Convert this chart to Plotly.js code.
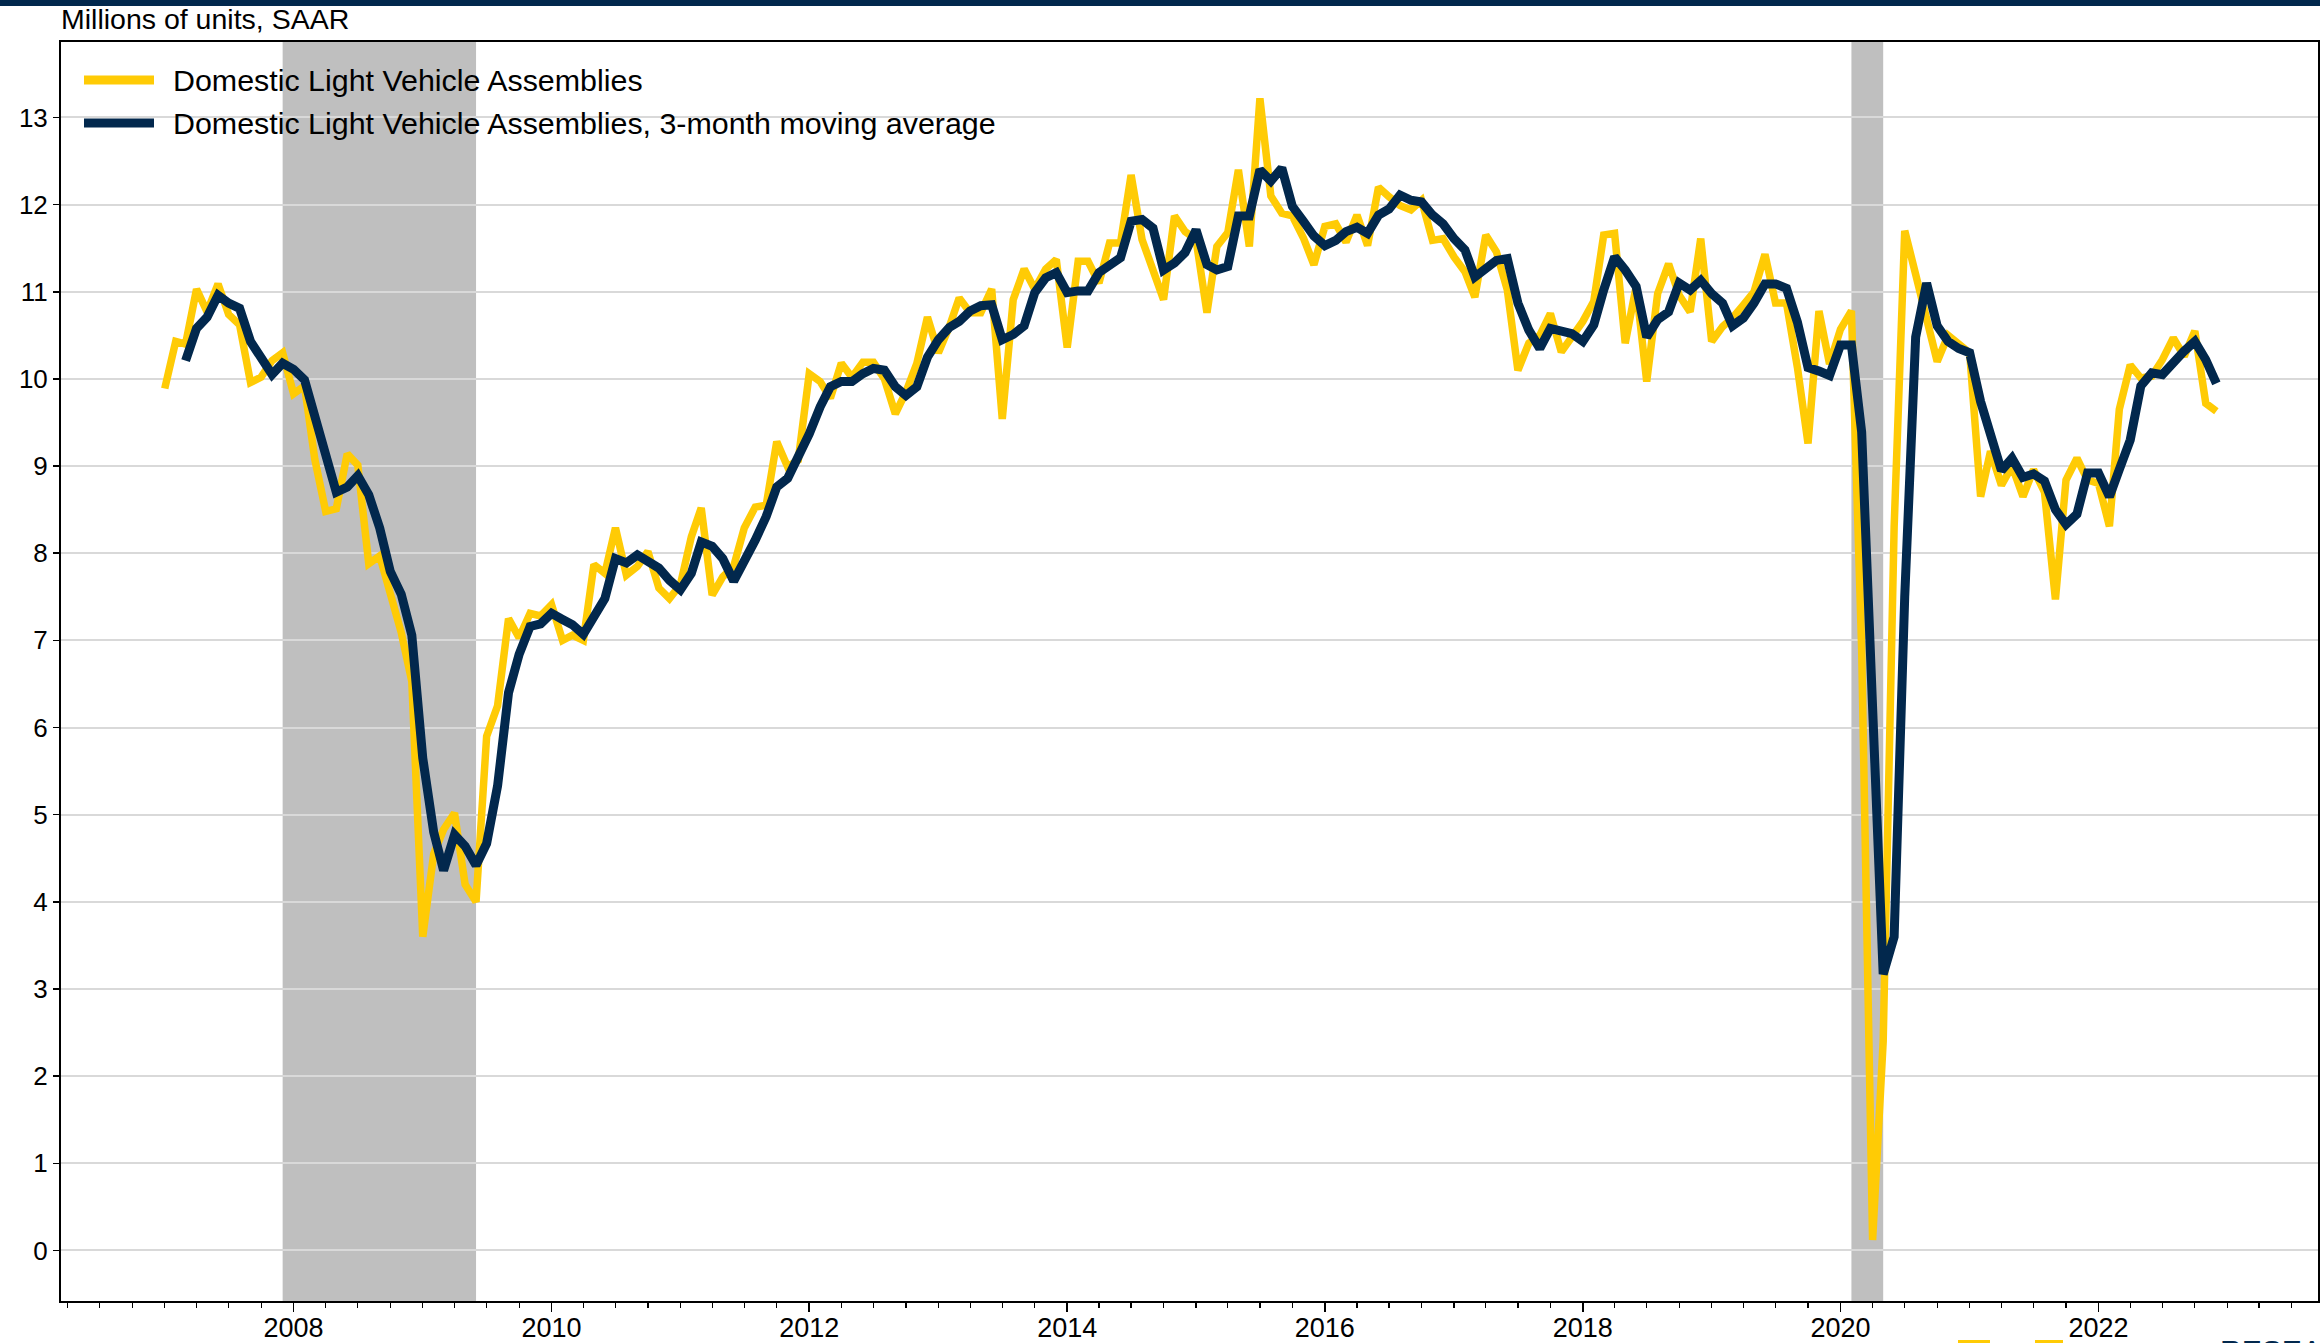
<!DOCTYPE html>
<html>
<head>
<meta charset="utf-8">
<script src="https://cdn.plot.ly/plotly-3.0.1.min.js"></script>
<style>
  html, body { margin: 0; padding: 0; background: #ffffff; }
  #chart { width: 2320px; height: 1343px; }
</style>
</head>
<body>
<div id="chart"></div>
<script>
// ---------------- DATA ----------------
const seriesStartYear = 2007;   // first month: January 2007
const seriesName = 'Domestic Light Vehicle Assemblies';
const maName = 'Domestic Light Vehicle Assemblies, 3-month moving average';
const axisNote = 'Millions of units, SAAR';

// Monthly values, Jan 2007 - Dec 2022 (millions of units, SAAR)
const assemblies = [
  9.89, 10.43, 10.40, 11.03, 10.77, 11.09, 10.74, 10.62, 9.96, 10.02, 10.21, 10.30,   // 2007
  9.83, 9.92, 9.08, 8.48, 8.51, 9.14, 9.01, 7.88, 7.97, 7.53, 7.09, 6.53,             // 2008
  3.60, 4.55, 4.83, 5.02, 4.20, 4.00, 5.90, 6.25, 7.25, 7.03, 7.31, 7.28,             // 2009
  7.41, 7.00, 7.06, 7.00, 7.87, 7.77, 8.29, 7.75, 7.85, 8.02, 7.60, 7.48,             // 2010
  7.64, 8.19, 8.52, 7.52, 7.73, 7.85, 8.29, 8.53, 8.55, 9.28, 8.99, 9.07,             // 2011
  10.06, 9.97, 9.78, 10.18, 10.02, 10.19, 10.19, 10.00, 9.60, 9.85, 10.18, 10.71,     // 2012
  10.30, 10.60, 10.93, 10.76, 10.76, 11.03, 9.54, 10.91, 11.26, 11.03, 11.26, 11.37,  // 2013
  10.36, 11.35, 11.35, 11.10, 11.56, 11.56, 12.34, 11.60, 11.24, 10.91, 11.87, 11.69, // 2014
  11.60, 10.76, 11.52, 11.68, 12.40, 11.52, 13.22, 12.10, 11.90, 11.87, 11.62, 11.31, // 2015
  11.75, 11.78, 11.57, 11.88, 11.53, 12.20, 12.09, 11.99, 11.94, 12.05, 11.59, 11.61, // 2016
  11.40, 11.23, 10.94, 11.65, 11.46, 11.02, 10.10, 10.41, 10.50, 10.75, 10.31, 10.47, // 2017
  10.66, 10.89, 11.65, 11.67, 10.41, 11.06, 9.97, 10.98, 11.32, 10.96, 10.77, 11.61,  // 2018
  10.43, 10.60, 10.70, 10.85, 11.00, 11.43, 10.87, 10.87, 10.13, 9.26, 10.78, 10.17,  // 2019
  10.57, 10.78, 6.90, 0.12, 2.40, 8.30, 11.70, 11.20, 10.65, 10.20, 10.50, 10.40,     // 2020
  10.30, 8.65, 9.17, 8.78, 9.00, 8.65, 8.96, 8.70, 7.47, 8.84, 9.09, 8.84,            // 2021
  8.80, 8.31, 9.65, 10.16, 10.01, 10.03, 10.22, 10.47, 10.26, 10.55, 9.72, 9.63       // 2022
];

// 3-month moving average, Mar 2007 - Dec 2022
const movingAverage = [
  10.21, 10.58, 10.71, 10.96, 10.87, 10.81, 10.43, 10.24, 10.05, 10.18,               // 2007 (Mar-Dec)
  10.11, 9.99, 9.55, 9.11, 8.70, 8.76, 8.89, 8.67, 8.29, 7.79, 7.53, 7.06,            // 2008
  5.65, 4.80, 4.36, 4.77, 4.64, 4.42, 4.67, 5.33, 6.40, 6.84, 7.16, 7.19,             // 2009
  7.31, 7.24, 7.18, 7.07, 7.29, 7.48, 7.94, 7.89, 7.98, 7.90, 7.83, 7.69,             // 2010
  7.58, 7.77, 8.13, 8.08, 7.94, 7.68, 7.90, 8.15, 8.42, 8.76, 8.86, 9.09,             // 2011
  9.37, 9.68, 9.91, 9.97, 9.97, 10.06, 10.12, 10.10, 9.91, 9.81, 9.91, 10.25,         // 2012
  10.45, 10.59, 10.66, 10.78, 10.84, 10.85, 10.45, 10.51, 10.61, 10.99, 11.16, 11.22, // 2013
  10.99, 11.01, 11.01, 11.22, 11.31, 11.39, 11.81, 11.83, 11.73, 11.25, 11.33, 11.45, // 2014
  11.71, 11.31, 11.25, 11.29, 11.87, 11.87, 12.40, 12.27, 12.42, 11.98, 11.81, 11.64, // 2015
  11.53, 11.59, 11.69, 11.74, 11.67, 11.88, 11.95, 12.11, 12.05, 12.03, 11.88, 11.78, // 2016
  11.61, 11.48, 11.17, 11.27, 11.36, 11.38, 10.87, 10.56, 10.35, 10.58, 10.54, 10.52, // 2017
  10.43, 10.62, 11.02, 11.40, 11.25, 11.06, 10.48, 10.68, 10.77, 11.10, 11.02, 11.13, // 2018
  10.98, 10.87, 10.61, 10.70, 10.87, 11.09, 11.09, 11.04, 10.65, 10.13, 10.09, 10.04, // 2019
  10.39, 10.39, 9.39, 5.95, 3.17, 3.60, 7.50, 10.48, 11.10, 10.61, 10.43, 10.35,      // 2020
  10.30, 9.74, 9.35, 8.95, 9.09, 8.87, 8.91, 8.83, 8.50, 8.33, 8.45, 8.92,            // 2021
  8.92, 8.65, 8.96, 9.30, 9.92, 10.07, 10.05, 10.20, 10.32, 10.43, 10.22, 9.95        // 2022
];

// NBER recessions (shaded)
const recessionStart = ['2007-12-01', '2020-02-01'];
const recessionEnd   = ['2009-06-01', '2020-05-01'];

// y-axis tick values
const yTicks = [0, 1, 2, 3, 4, 5, 6, 7, 8, 9, 10, 11, 12, 13];

// ---------------- BUILD ----------------
const months = assemblies.map((_, i) => {
  const y = seriesStartYear + Math.floor(i / 12);
  const m = (i % 12) + 1;
  return y + '-' + (m < 10 ? '0' + m : m) + '-01';
});
const maMonths = months.slice(months.length - movingAverage.length);

const YELLOW = '#ffcb05';
const NAVY = '#02284d';
const FONT = 'Liberation Sans, Arial, Helvetica, sans-serif';

// geometry helpers for paper-referenced decorations (pixels -> paper)
const W = 2320, H = 1343, ML = 61, MR = 2, MT = 42, MB = 42;
const PW = W - ML - MR, PH = H - MT - MB;
const px = x => (x - ML) / PW;
const py = y => (H - MB - y) / PH;

const traces = [
  {
    x: months, y: assemblies, type: 'scatter', mode: 'lines', name: seriesName,
    line: { color: YELLOW, width: 7.5, shape: 'linear' }, showlegend: false,
    hoverinfo: 'x+y'
  },
  {
    x: maMonths, y: movingAverage, type: 'scatter', mode: 'lines', name: maName,
    line: { color: NAVY, width: 9, shape: 'linear' }, showlegend: false,
    hoverinfo: 'x+y'
  }
];

const shapes = [];
recessionStart.forEach((s, i) => {
  shapes.push({
    type: 'rect', xref: 'x', yref: 'paper', x0: s, x1: recessionEnd[i], y0: 0, y1: 1,
    fillcolor: '#bfbfbf', line: { width: 0 }, layer: 'below'
  });
});
// top navy banner
shapes.push({
  type: 'rect', xref: 'paper', yref: 'paper', x0: px(0), x1: px(W), y0: py(6), y1: py(0),
  fillcolor: NAVY, line: { width: 0 }, layer: 'above'
});
// legend swatches
shapes.push({
  type: 'line', xref: 'paper', yref: 'paper', x0: px(84), x1: px(154), y0: py(80), y1: py(80),
  line: { color: YELLOW, width: 9 }, layer: 'above'
});
shapes.push({
  type: 'line', xref: 'paper', yref: 'paper', x0: px(84), x1: px(154), y0: py(123), y1: py(123),
  line: { color: NAVY, width: 9 }, layer: 'above'
});
// clipped logo fragments at bottom edge
shapes.push({
  type: 'rect', xref: 'paper', yref: 'paper', x0: px(1958), x1: px(1990), y0: py(1346), y1: py(1340),
  fillcolor: YELLOW, line: { width: 0 }, layer: 'above'
});
shapes.push({
  type: 'rect', xref: 'paper', yref: 'paper', x0: px(2035), x1: px(2063), y0: py(1346), y1: py(1340),
  fillcolor: YELLOW, line: { width: 0 }, layer: 'above'
});

const annotations = [
  {
    text: axisNote, xref: 'paper', yref: 'paper', x: px(59), y: py(19),
    xanchor: 'left', yanchor: 'middle', showarrow: false,
    font: { family: FONT, size: 28.5, color: '#000000' }
  },
  {
    text: seriesName, xref: 'paper', yref: 'paper', x: px(171), y: py(80),
    xanchor: 'left', yanchor: 'middle', showarrow: false,
    font: { family: FONT, size: 30.4, color: '#000000' }
  },
  {
    text: maName, xref: 'paper', yref: 'paper', x: px(171), y: py(123),
    xanchor: 'left', yanchor: 'middle', showarrow: false,
    font: { family: FONT, size: 30.4, color: '#000000' }
  },
  {
    text: 'RESEARCH', xref: 'paper', yref: 'paper', x: px(2218), y: py(1332),
    xanchor: 'left', yanchor: 'top', showarrow: false,
    font: { family: FONT, size: 30, color: NAVY }
  }
];

const layout = {
  width: W, height: H,
  margin: { l: ML, r: MR, t: MT, b: MB, pad: 0 },
  paper_bgcolor: '#ffffff', plot_bgcolor: '#ffffff',
  showlegend: false,
  font: { family: FONT, color: '#000000' },
  xaxis: {
    type: 'date',
    range: ['2006-03-13', '2023-09-15'],
    tick0: '2008-01-01', dtick: 'M24', tickformat: '%Y',
    ticks: 'outside', ticklen: 9, tickwidth: 1.5, tickcolor: '#000000',
    ticklabelstandoff: -7,
    tickfont: { family: FONT, size: 27, color: '#000000' },
    showline: true, linecolor: '#000000', linewidth: 2, mirror: true,
    showgrid: false, zeroline: false,
    minor: { tick0: '2008-01-01', dtick: 'M3', ticks: 'outside', ticklen: 5, tickwidth: 1.2, tickcolor: '#000000', showgrid: false }
  },
  yaxis: {
    range: [-0.58, 13.866],
    tickmode: 'array', tickvals: yTicks, ticktext: yTicks.map(String),
    ticks: 'outside', ticklen: 6, tickwidth: 1.5, tickcolor: '#000000',
    tickfont: { family: FONT, size: 26, color: '#000000' },
    showgrid: true, gridcolor: '#d9d9d9', gridwidth: 2,
    zeroline: false,
    showline: true, linecolor: '#000000', linewidth: 2, mirror: true
  },
  shapes: shapes,
  annotations: annotations
};

Plotly.newPlot('chart', traces, layout, { staticPlot: true, displayModeBar: false });
</script>
</body>
</html>
